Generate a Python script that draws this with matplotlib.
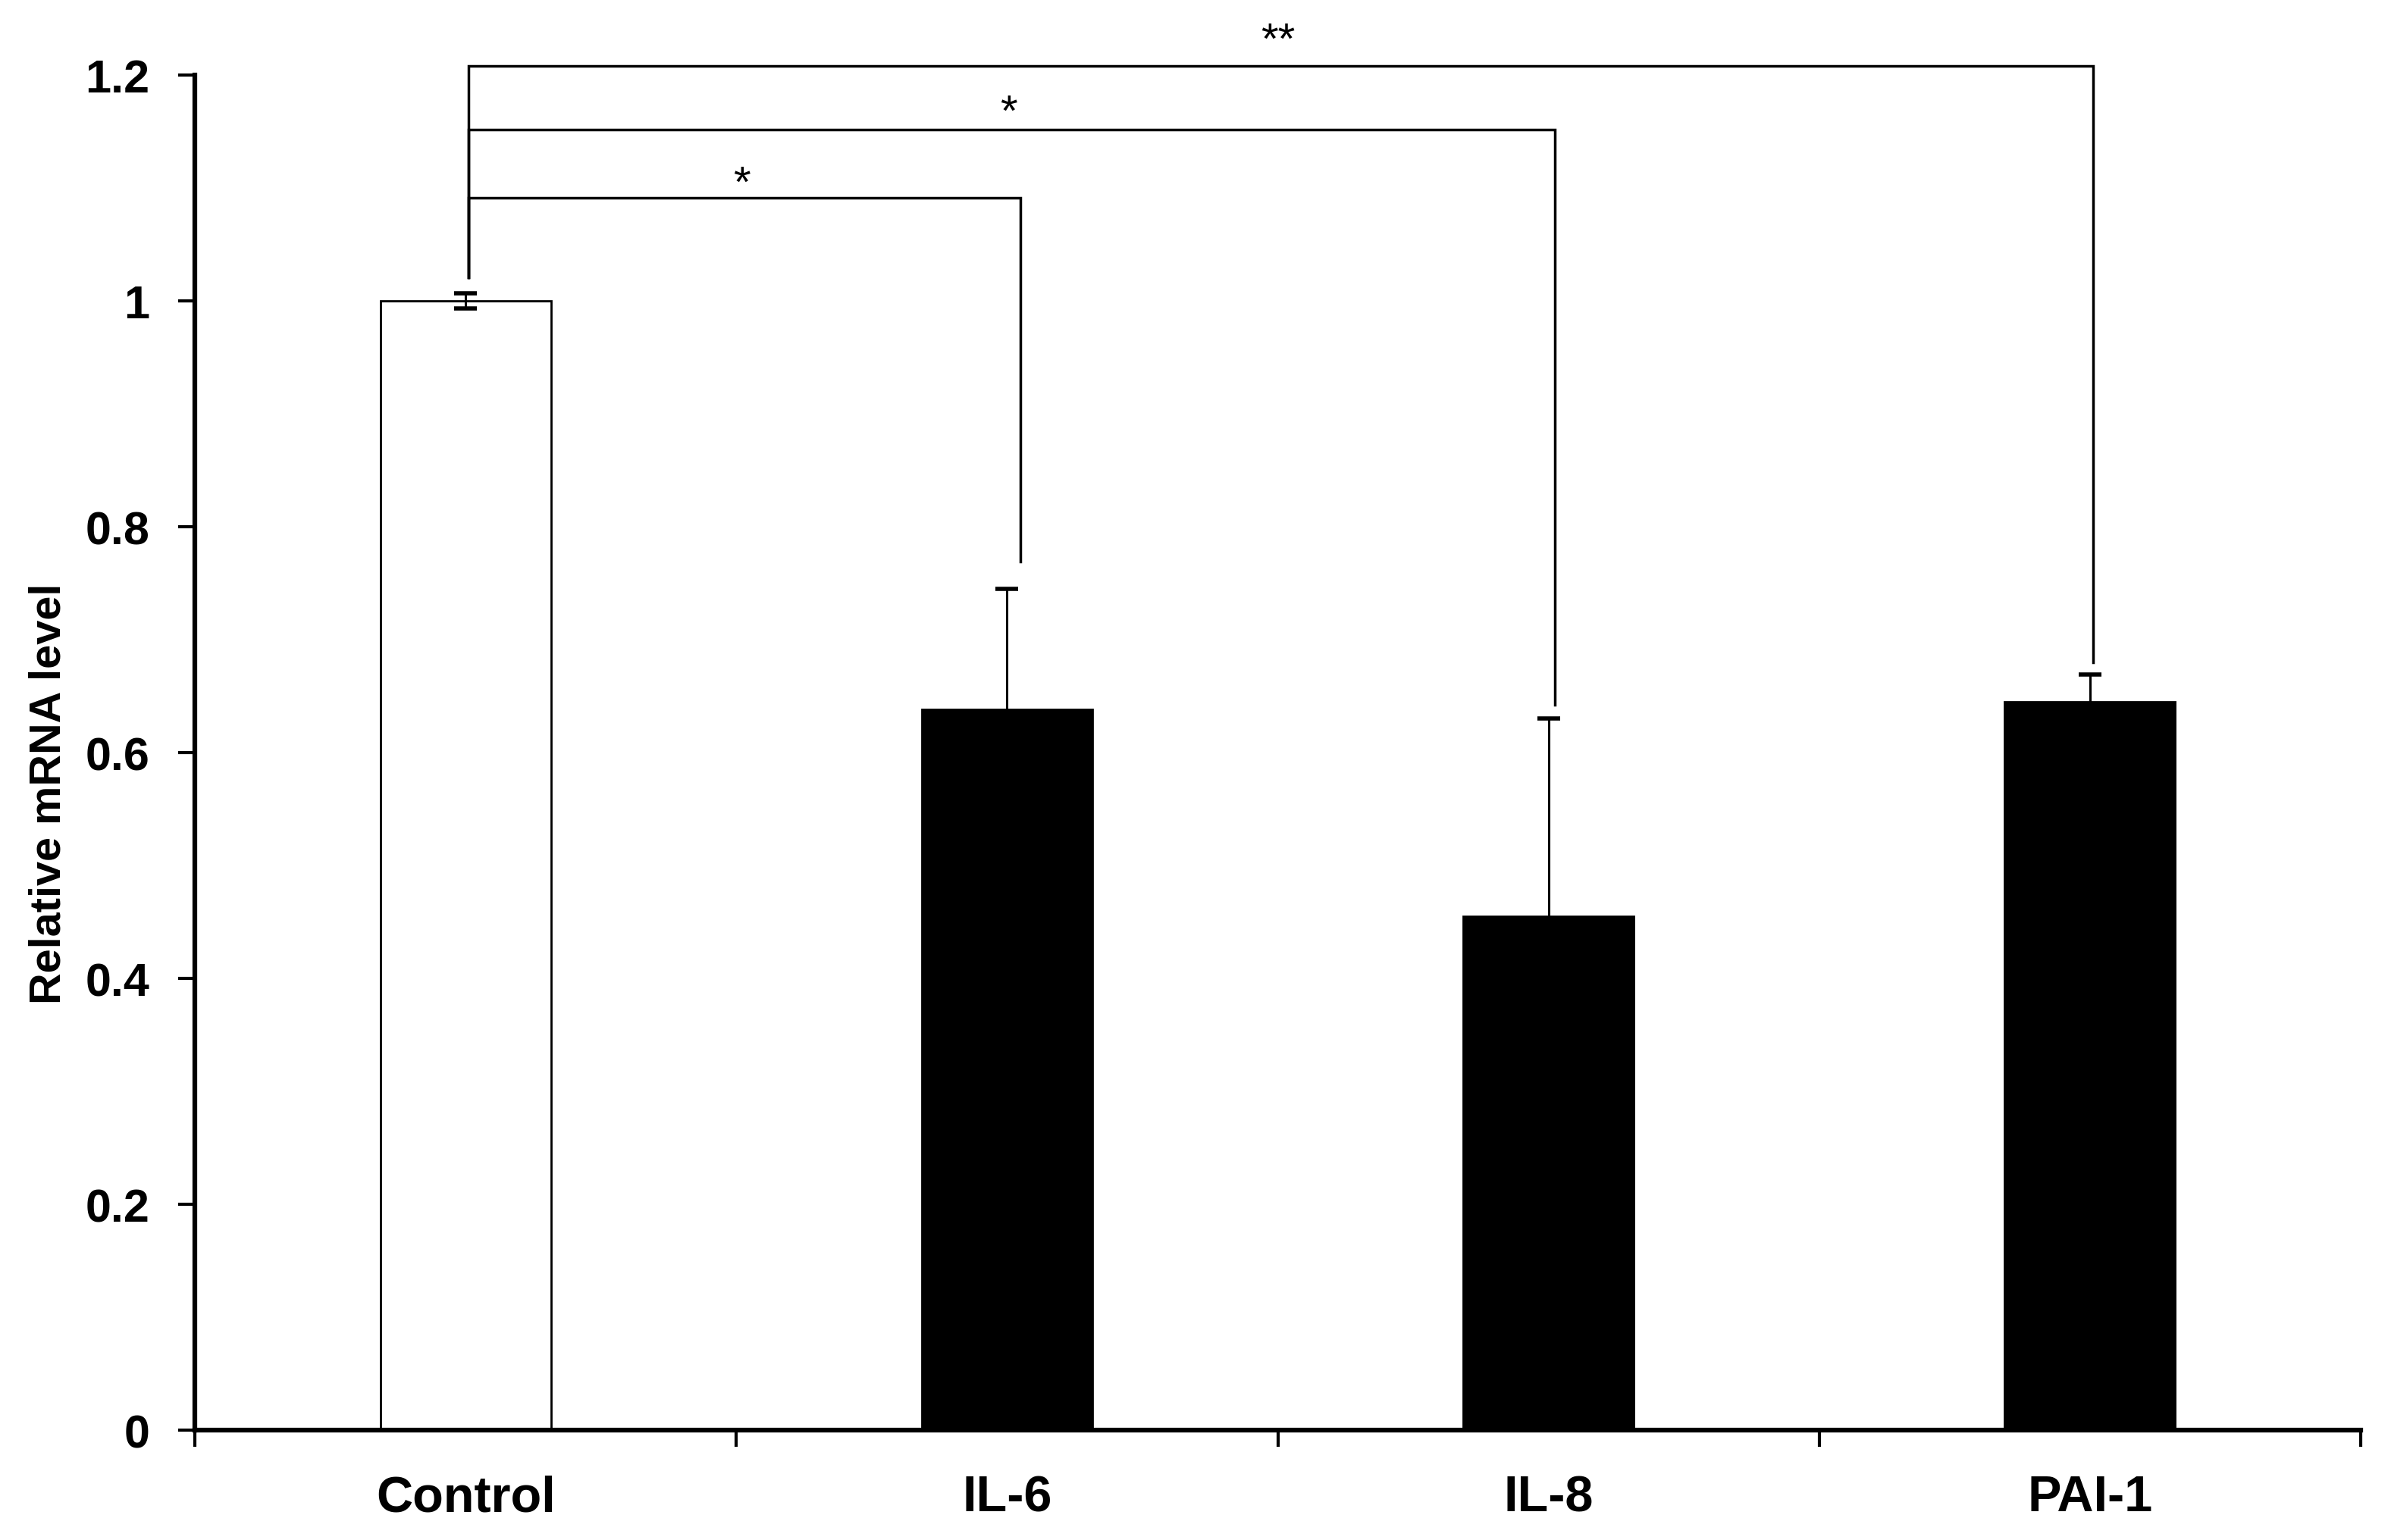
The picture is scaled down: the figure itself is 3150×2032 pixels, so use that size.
import matplotlib
matplotlib.use("Agg")
import matplotlib.pyplot as plt
import numpy as np

categories = ["Control", "IL-6", "IL-8", "PAI-1"]
values = [1.0, 0.638, 0.455, 0.645]
errors = [0.007, 0.107, 0.175, 0.024]
bar_colors = ["white", "black", "black", "black"]
yticks = [0, 0.2, 0.4, 0.6, 0.8, 1, 1.2]
ytick_labels = ["0", "0.2", "0.4", "0.6", "0.8", "1", "1.2"]

# significance brackets: (left, right, bracket height, left leg bottom, right leg bottom, label)
brackets = [
    (0.005, 1.025, 1.091, 1.021, 0.769, "*"),
    (0.005, 2.011, 1.152, 1.021, 0.642, "*"),
    (0.005, 3.006, 1.208, 1.021, 0.680, "**"),
]
star_y = [1.103, 1.166, 1.230]

plt.rcParams['font.family'] = ['Liberation Sans', 'DejaVu Sans']

fig = plt.figure(figsize=(31.5, 20.33), dpi=100)
ax = fig.add_axes([0.0816, 0.0713, 0.907, 0.8795])

x = np.arange(len(categories))
ax.bar(x, values, width=0.315, color=bar_colors, edgecolor="black", linewidth=2.0, zorder=2)
ax.errorbar(x, values, yerr=errors, fmt="none", ecolor="black", elinewidth=2.2,
            capsize=11, capthick=4, zorder=3)

for (l, r, h, lb, rb, lab), sy in zip(brackets, star_y):
    ax.plot([l, l, r, r], [lb, h, h, rb], color="black", lw=2.5, clip_on=False, zorder=4,
            solid_joinstyle="miter")
    ax.text((l + r) / 2 - 0.005, sy, lab, ha="center", va="center", fontsize=42,
            clip_on=False)

ax.set_xlim(-0.5, 3.5)
ax.set_ylim(0, 1.2)

for s in ["top", "right"]:
    ax.spines[s].set_visible(False)
for s in ["left", "bottom"]:
    ax.spines[s].set_linewidth(4.5)

ax.set_yticks(yticks)
ax.set_yticklabels(ytick_labels, fontsize=44, fontweight="bold")
ax.tick_params(axis="y", direction="out", length=16, width=3, pad=27)

ax.set_xticks(x)
ax.set_xticklabels(categories, fontsize=48, fontweight="bold")
ax.tick_params(axis="x", which="major", length=0, pad=42)
ax.set_xticks(np.arange(-0.5, 4.0, 1.0), minor=True)
ax.tick_params(axis="x", which="minor", direction="out", length=16, width=3)

ax.set_ylabel("Relative mRNA level", fontsize=41.5, fontweight="bold")
ax.yaxis.set_label_coords(-0.058, 0.47)

fig.savefig("out.png", dpi=100, facecolor="white")
